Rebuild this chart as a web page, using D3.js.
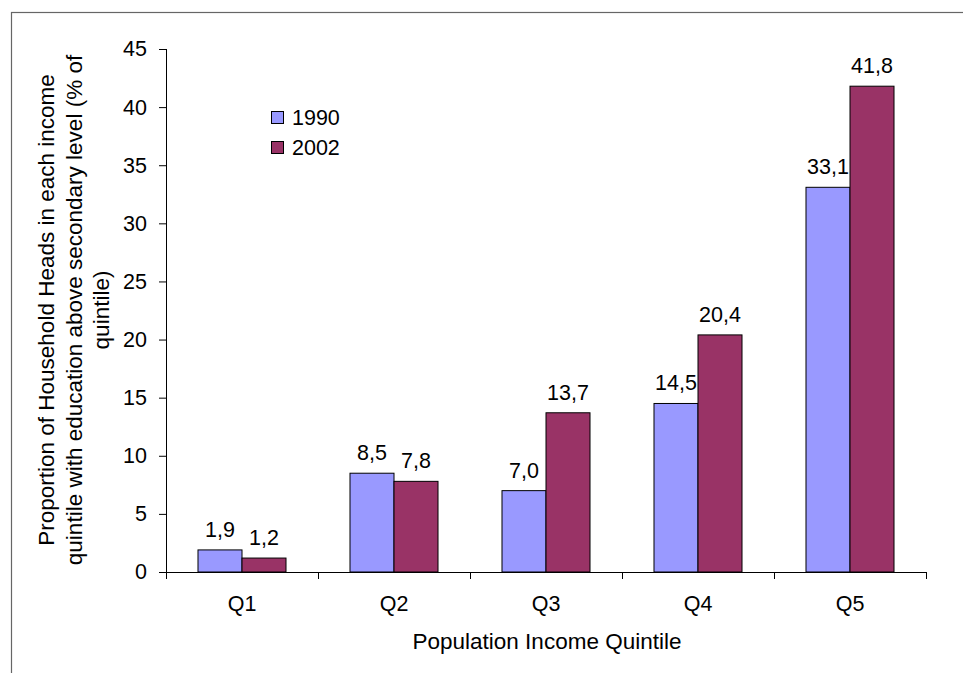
<!DOCTYPE html>
<html>
<head>
<meta charset="utf-8">
<script src="https://cdn.jsdelivr.net/npm/d3@7"></script>
<style>
  html, body { margin: 0; padding: 0; background: #fff; }
  svg text { font-family: "Liberation Sans", Arial, sans-serif; fill: #000; }
</style>
</head>
<body>
<svg id="chart" width="963" height="673"></svg>
<script>
// Quintile categories and the two survey years
const categories = ["Q1", "Q2", "Q3", "Q4", "Q5"];
const years = ["1990", "2002"];
const values1990 = [1.9, 8.5, 7.0, 14.5, 33.1];
const values2002 = [1.2, 7.8, 13.7, 20.4, 41.8];
const yTicks = [0, 5, 10, 15, 20, 25, 30, 35, 40, 45];
const colors = { "1990": "#9999FF", "2002": "#993366" };

const yTitleLines = [
  "Proportion of Household Heads in each income",
  "quintile with education above secondary level (% of",
  "quintile)"
];
const xTitle = "Population Income Quintile";

const svg = d3.select("#chart");
const labelSize = 21.5;
const titleSize = 22.5;

// chart frame
svg.append("rect")
  .attr("x", 11.5).attr("y", 12.5)
  .attr("width", 980).attr("height", 700)
  .attr("fill", "none").attr("stroke", "#666").attr("stroke-width", 1.2);

const plot = { left: 166, right: 926, top: 49, bottom: 572 };

const x = d3.scaleBand().domain(categories).range([plot.left, plot.right]).paddingInner(0).paddingOuter(0);
// two touching bars per quintile, centred in each band
const inner = d3.scaleBand().domain(years).range([0, x.bandwidth()]).paddingInner(0).paddingOuter(0.727);
const y = d3.scaleLinear().domain([0, 45]).range([plot.bottom, plot.top]);

const rows = categories.map((c, i) => ({ cat: c, vals: [
  { year: "1990", v: values1990[i] },
  { year: "2002", v: values2002[i] }
]}));

// bars
const groups = svg.append("g").selectAll("g").data(rows).join("g")
  .attr("transform", d => `translate(${x(d.cat)},0)`);

groups.selectAll("rect").data(d => d.vals).join("rect")
  .attr("x", d => inner(d.year))
  .attr("y", d => y(d.v))
  .attr("width", inner.bandwidth())
  .attr("height", d => y(0) - y(d.v))
  .attr("fill", d => colors[d.year])
  .attr("stroke", "#000").attr("stroke-width", 1);

// value labels
groups.selectAll("text").data(d => d.vals).join("text")
  .attr("x", d => inner(d.year) + inner.bandwidth() / 2)
  .attr("y", d => y(d.v) - 13)
  .attr("text-anchor", "middle")
  .style("font-size", labelSize + "px")
  .text(d => d.v.toFixed(1).replace(".", ","));

// y axis
const yAxis = svg.append("g")
  .attr("transform", `translate(${plot.left},0)`)
  .call(d3.axisLeft(y).tickValues(yTicks).tickSize(7).tickPadding(12).tickFormat(d3.format("d")));
yAxis.selectAll("path, line").attr("stroke", "#000");
yAxis.select(".domain").attr("d", `M0.5,${plot.top}V${plot.bottom}`);
yAxis.selectAll("text").style("font-size", labelSize + "px").style("font-family", "Liberation Sans, Arial, sans-serif");

// x axis with ticks between categories
const xAxis = svg.append("g").attr("transform", `translate(0,${plot.bottom})`);
xAxis.append("line")
  .attr("x1", plot.left).attr("x2", plot.right)
  .attr("y1", 0.5).attr("y2", 0.5).attr("stroke", "#000");
const boundaries = categories.map(c => x(c)).concat([plot.right]);
xAxis.selectAll("line.tick").data(boundaries).join("line")
  .attr("class", "tick")
  .attr("x1", d => d + 0.5).attr("x2", d => d + 0.5)
  .attr("y1", 0).attr("y2", 7).attr("stroke", "#000");
xAxis.selectAll("text").data(categories).join("text")
  .attr("x", d => x(d) + x.bandwidth() / 2)
  .attr("y", 39)
  .attr("text-anchor", "middle")
  .style("font-size", labelSize + "px")
  .text(d => d);

// axis titles
svg.append("text")
  .attr("x", 547).attr("y", 649)
  .attr("text-anchor", "middle")
  .style("font-size", titleSize + "px")
  .text(xTitle);

const yTitle = svg.append("text")
  .attr("transform", "translate(0,310) rotate(-90)")
  .attr("text-anchor", "middle")
  .style("font-size", titleSize + "px");
yTitleLines.forEach((line, i) => {
  yTitle.append("tspan").attr("x", 0).attr("y", 54 + i * 27.5).text(line);
});

// legend
const legend = svg.append("g").attr("transform", "translate(271,111)");
years.forEach((yr, i) => {
  const g = legend.append("g").attr("transform", `translate(0,${i * 30})`);
  g.append("rect").attr("x", 0.5).attr("y", 0.5).attr("width", 12).attr("height", 12)
    .attr("fill", colors[yr]).attr("stroke", "#000");
  g.append("text").attr("x", 21).attr("y", 14)
    .style("font-size", labelSize + "px").text(yr);
});
</script>
</body>
</html>
